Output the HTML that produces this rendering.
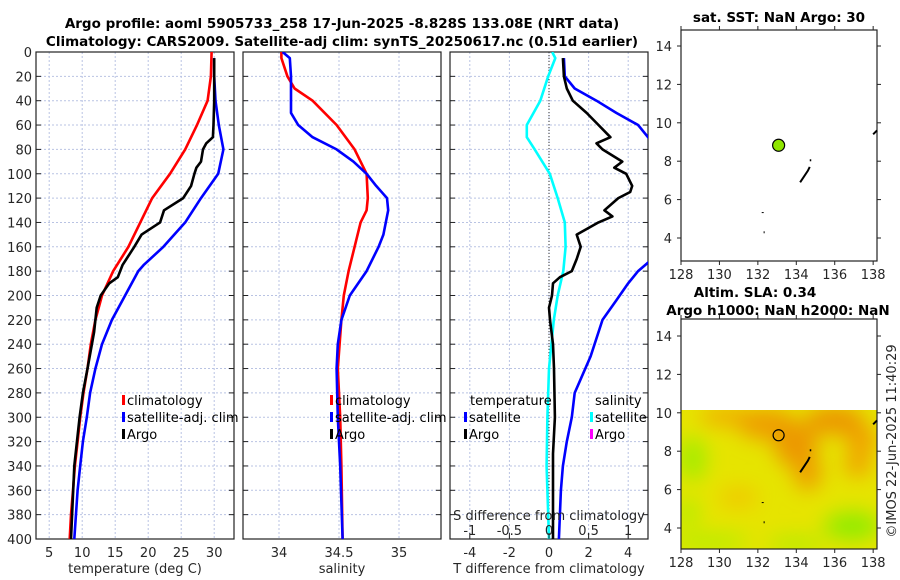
<!DOCTYPE html>
<html><head><meta charset="utf-8">
<style>
html,body{margin:0;padding:0;background:#fff;}
svg{display:block;font-family:"DejaVu Sans","Liberation Sans",sans-serif;}
.tk{font-size:13px;fill:#262626;}
.ttl{font-size:13.5px;font-weight:bold;fill:#000;}
.lg{font-size:13px;fill:#000;}
</style></head>
<body>
<svg id="fig" width="900" height="580" viewBox="0 0 900 580" xmlns="http://www.w3.org/2000/svg">
<defs>
<clipPath id="c1"><rect x="36" y="52" width="198" height="487"/></clipPath>
<clipPath id="c2"><rect x="243" y="52" width="198" height="487"/></clipPath>
<clipPath id="c3"><rect x="450" y="52" width="198" height="487"/></clipPath>
<clipPath id="cm"><rect x="681" y="410" width="196" height="139"/></clipPath>
<filter id="blur" x="-50%" y="-50%" width="200%" height="200%"><feGaussianBlur stdDeviation="10"/></filter>
</defs>
<text class="ttl" x="342" y="28" text-anchor="middle">Argo profile: aoml 5905733_258 17-Jun-2025 -8.828S 133.08E (NRT data)</text>
<text class="ttl" x="342" y="46" text-anchor="middle">Climatology: CARS2009. Satellite-adj clim: synTS_20250617.nc (0.51d earlier)</text>
<g id="g1"></g>
<g id="g2"></g>
<g id="g3"></g>
<g id="m1"></g>
<g id="m2"></g>
<text class="tk" transform="translate(896,441) rotate(-90)" text-anchor="middle">©IMOS 22-Jun-2025 11:40:29</text>
</svg>
<script>
const NS="http://www.w3.org/2000/svg";
// ---- data ----
const tClimDepth=[0,20,40,60,80,100,120,140,160,180,200,220,240,260,280,300,320,340,360,380,400];
const tClim=[29.6,29.5,29.0,27.4,25.6,23.3,20.6,18.8,17.0,14.7,13.0,12.0,11.3,10.8,10.2,9.7,9.3,8.9,8.6,8.3,8.1];
const tArgoDepth=[5,20,40,60,70,75,80,90,95,100,110,120,130,140,150,160,175,185,190,200,210,230,260,280,300,340,400];
const tArgo=[30.0,30.0,30.0,29.9,29.8,28.8,28.3,28.0,27.3,27.0,26.5,25.3,22.4,21.8,19.0,17.9,16.1,15.4,14.1,12.8,12.2,11.8,10.8,10.1,9.6,8.8,8.3];
const tSatDepth=[5,20,40,60,80,100,120,140,160,175,180,200,220,240,260,280,300,320,340,360,400];
const tSat=[30.0,30.0,30.2,30.7,31.4,30.6,28.0,25.6,22.3,19.3,18.5,16.5,14.5,13.0,12.0,11.2,10.7,10.1,9.7,9.3,8.8];
const sClimDepth=[0,5,20,30,40,60,80,100,120,130,140,160,180,200,220,260,300,340,400];
const sClim=[34.02,34.02,34.07,34.13,34.28,34.48,34.63,34.73,34.74,34.73,34.68,34.63,34.58,34.54,34.52,34.49,34.51,34.52,34.53];
const sSatDepth=[0,5,20,50,60,70,80,90,100,110,120,130,150,160,180,200,220,240,260,300,340,400];
const sSat=[34.03,34.09,34.10,34.10,34.16,34.28,34.48,34.62,34.73,34.81,34.90,34.91,34.87,34.83,34.73,34.59,34.52,34.49,34.48,34.49,34.51,34.53];
const dSDepth=[0,5,20,40,60,70,80,100,120,140,160,180,200,220,260,300,340,400];
const dSSat=[0.04,0.08,-0.01,-0.11,-0.28,-0.28,-0.18,0.01,0.11,0.20,0.21,0.18,0.11,0.06,0.0,-0.02,-0.03,0.0];
const dTArgoDepth=[5,20,30,40,50,60,70,75,80,90,95,100,110,115,120,130,135,140,150,160,170,180,185,190,200,210,220,240,260,300,330,360,400];
const dTArgo=[0.7,0.75,0.9,1.2,1.9,2.5,3.1,2.4,2.7,3.7,3.3,3.9,4.2,4.1,3.5,2.8,3.2,2.5,1.4,1.6,1.4,1.15,0.55,0.2,0.15,0.0,0.05,0.2,0.25,0.3,0.2,0.2,0.2];
const dTSatDepth=[5,20,30,40,50,60,72,80,100,150,165,173,180,190,204,220,250,280,300,320,340,360,400];
const dTSat=[0.75,0.8,1.3,2.4,3.4,4.5,5.1,5.8,6.0,6.0,5.6,5.0,4.5,4.0,3.4,2.7,2.1,1.3,1.15,0.9,0.7,0.6,0.5];
const depthTicks=[0,20,40,60,80,100,120,140,160,180,200,220,240,260,280,300,320,340,360,380,400];
const tTicks=[5,10,15,20,25,30];
const sTicks=[34,34.5,35];
const sTickLabels=["34","34.5","35"];
const dTTicks=[-4,-2,0,2,4];
const dSTicks=[-1,-0.5,0,0.5,1];
const mapXTicks=[128,130,132,134,136,138];
const mapYTicks=[4,6,8,10,12,14];
const argoLon=[133.08];
const argoLat=[8.83];
// ---- helpers ----
function mk(tag,attrs,parent){const e=document.createElementNS(NS,tag);for(const k in attrs)e.setAttribute(k,attrs[k]);parent.appendChild(e);return e;}
function lin(d0,d1,r0,r1){return v=>r0+(v-d0)/(d1-d0)*(r1-r0);}
const Y=lin(0,400,52,539);
function line(g,xs,ds,sx,color,w,clip,name){
  const pts=xs.map((v,i)=>sx(v).toFixed(1)+","+Y(ds[i]).toFixed(1)).join(" ");
  const p=mk("polyline",{points:pts,fill:"none",stroke:color,"stroke-width":w,"stroke-linejoin":"round","clip-path":"url(#"+clip+")"},g);
  
  
}
function panel(g,x0,x1,sx,xt,xlabels,title,showY){
  for(const d of depthTicks){
    const gl=mk("line",{x1:x0,x2:x1,y1:Y(d),y2:Y(d),stroke:"#b9c3e3","stroke-width":1,"stroke-dasharray":"2,2"},g);
    
    
    mk("line",{x1:x0,x2:x0+5,y1:Y(d),y2:Y(d),stroke:"#222"},g);
    mk("line",{x1:x1-5,x2:x1,y1:Y(d),y2:Y(d),stroke:"#222"},g);
    if(showY){const t=mk("text",{x:32,y:Y(d)+5,"text-anchor":"end",class:"tk"},g);t.textContent=d;
      
      }
  }
  xt.forEach((v,i)=>{
    const gl=mk("line",{x1:sx(v),x2:sx(v),y1:52,y2:539,stroke:"#b9c3e3","stroke-width":1,"stroke-dasharray":"2,2"},g);
    
    
    const t=mk("text",{x:sx(v),y:557,"text-anchor":"middle",class:"tk"},g);t.textContent=xlabels[i];
    
    
  });
  const r=mk("rect",{x:x0,y:52,width:x1-x0,height:487,fill:"none",stroke:"#222","stroke-width":1.2},g);
  
  
  const tt=mk("text",{x:(x0+x1)/2,y:573,"text-anchor":"middle",class:"tk"},g);tt.textContent=title;
  
  
}
function legend(g,x,y,color,label){
  const m=mk("rect",{x:x,y:y-10,width:3,height:10,fill:color},g);
  
  
  if(label){const t=mk("text",{x:x+5,y:y,class:"lg"},g);t.textContent=label;
    
    }
}
// ---- panel 1 ----
const g1=document.getElementById("g1");
const sxT=lin(3,33,36,234);
panel(g1,36,234,sxT,tTicks,tTicks.map(String),"temperature (deg C)",true);
line(g1,tClim,tClimDepth,sxT,"#ff0000",2.6,"c1","temperature-climatology-line");
line(g1,tSat,tSatDepth,sxT,"#0000ff",2.6,"c1","temperature-satellite-line");
line(g1,tArgo,tArgoDepth,sxT,"#000000",2.6,"c1","temperature-argo-line");
legend(g1,122,405,"#ff0000","climatology");
legend(g1,122,422,"#0000ff","satellite-adj. clim");
legend(g1,122,439,"#000000","Argo");
// ---- panel 2 ----
const g2=document.getElementById("g2");
const sxS=lin(33.7,35.35,243,441);
panel(g2,243,441,sxS,sTicks,sTickLabels,"salinity",false);
line(g2,sClim,sClimDepth,sxS,"#ff0000",2.6,"c2","salinity-climatology-line");
line(g2,sSat,sSatDepth,sxS,"#0000ff",2.6,"c2","salinity-satellite-line");
legend(g2,330,405,"#ff0000","climatology");
legend(g2,330,422,"#0000ff","satellite-adj. clim");
legend(g2,330,439,"#000000","Argo");
// ---- panel 3 ----
const g3=document.getElementById("g3");
const sxD=lin(-5,5,450,648);
const sxDS=lin(-1.25,1.25,450,648);
panel(g3,450,648,sxD,dTTicks,dTTicks.map(String),"T difference from climatology",false);
const zl=mk("line",{x1:sxD(0),x2:sxD(0),y1:52,y2:539,stroke:"#333","stroke-width":1,"stroke-dasharray":"1,2"},g3);


line(g3,dSSat,dSDepth,sxDS,"#00ffff",2.6,"c3","salinity-difference-satellite-line");
line(g3,dTSat,dTSatDepth,sxD,"#0000ff",2.6,"c3","temperature-difference-satellite-line");
line(g3,dTArgo,dTArgoDepth,sxD,"#000000",2.6,"c3","temperature-difference-argo-line");
dSTicks.forEach(v=>{
  mk("line",{x1:sxDS(v),x2:sxDS(v),y1:533,y2:539,stroke:"#222"},g3);
  const t=mk("text",{x:sxDS(v),y:535,"text-anchor":"middle",class:"tk"},g3);t.textContent=String(v);
  
  
});
{const t=mk("text",{x:549,y:520,"text-anchor":"middle",class:"tk"},g3);t.textContent="S difference from climatology";
 
 }
{const t=mk("text",{x:470,y:405,class:"lg"},g3);t.textContent="temperature";
 
 }
{const t=mk("text",{x:595,y:405,class:"lg"},g3);t.textContent="salinity";
 
 }
legend(g3,464,422,"#0000ff","satellite");
legend(g3,464,439,"#000000","Argo");
legend(g3,590,422,"#00ffff","satellite");
legend(g3,590,439,"#ff00ff","Argo");
// ---- maps ----
function map(id,top,bot,title,ytop,fillHeat){
  const g=document.getElementById(id);
  const mx=lin(128,138.2,681,877), my=lin(14,4,ytop,ytop+192);
  if(fillHeat){
    const h=mk("g",{"clip-path":"url(#cm)"},g);
    mk("rect",{x:681,y:410,width:196,height:139,fill:"#e6e400"},h);
    const bl=mk("g",{filter:"url(#blur)"},h);
    const blobs=[[130.5,9.8,30,10,"#f0b000"],[132.5,9.4,30,16,"#ee9e00"],[134,8.3,22,22,"#ec9800"],[134.6,6.9,14,18,"#ee9e00"],[136,9.6,30,14,"#ec9400"],[137.4,8.6,16,14,"#f0a000"],[137.2,7.3,14,12,"#f0a400"],[131,5.6,20,10,"#f0c800"],
      [128.6,7.6,14,22,"#a4ec00"],[129.5,3.3,40,8,"#b4ee00"],[136.9,4.1,28,14,"#90ec00"],[134,3.2,30,6,"#a8ee00"],[128.4,4.8,10,14,"#b0ee00"]];
    blobs.forEach(b=>mk("ellipse",{cx:mx(b[0]),cy:my(b[1]),rx:b[2],ry:b[3],fill:b[4]},bl));
  }
  mk("rect",{x:681,y:top,width:196,height:bot-top,fill:"none",stroke:"#222","stroke-width":1.2},g);
  mapXTicks.forEach(v=>{
    mk("line",{x1:mx(v),x2:mx(v),y1:bot,y2:bot+4,stroke:"#222"},g);
    mk("line",{x1:mx(v),x2:mx(v),y1:top-4,y2:top,stroke:"#222"},g);
    const t=mk("text",{x:mx(v),y:bot+18,"text-anchor":"middle",class:"tk"},g);t.textContent=v;
    
    
  });
  mapYTicks.forEach(v=>{
    mk("line",{x1:677,x2:681,y1:my(v),y2:my(v),stroke:"#222"},g);
    mk("line",{x1:877,x2:881,y1:my(v),y2:my(v),stroke:"#222"},g);
    const t=mk("text",{x:672,y:my(v)+5,"text-anchor":"end",class:"tk"},g);t.textContent=v;
    
    
  });
  mk("path",{d:`M${mx(134.2)},${my(6.9)} L${mx(134.4)},${my(7.2)} L${mx(134.6)},${my(7.5)} L${mx(134.7)},${my(7.7)}`,stroke:"#000","stroke-width":2,fill:"none"},g);
  mk("rect",{x:mx(134.7),y:my(8.1),width:1.5,height:2,fill:"#000"},g);
  mk("rect",{x:mx(132.2),y:my(5.35),width:2,height:1,fill:"#000"},g);
  mk("rect",{x:mx(132.3),y:my(4.35),width:1,height:2,fill:"#000"},g);
  mk("path",{d:`M${mx(138.0)},${my(9.4)} L${mx(138.2)},${my(9.6)}`,stroke:"#000","stroke-width":2},g);
  argoLon.forEach((lon,i)=>{
    const c=mk("circle",{cx:mx(lon),cy:my(argoLat[i]),r:fillHeat?5.5:6,fill:fillHeat?"none":"#8fe600",stroke:"#000","stroke-width":1.2},g);
    
    
  });
  title.forEach(tl=>{const t=mk("text",{x:tl[0],y:tl[1],"text-anchor":"middle",class:"ttl"},g);t.textContent=tl[2];
    
    });
}
map("m1",30,261,[[779,22,"sat. SST: NaN Argo: 30"]],46,false);
map("m2",319,549,[[755,297,"Altim. SLA: 0.34"],[778,315,"Argo h1000: NaN h2000: NaN"]],336,true);
</script>
</body></html>
